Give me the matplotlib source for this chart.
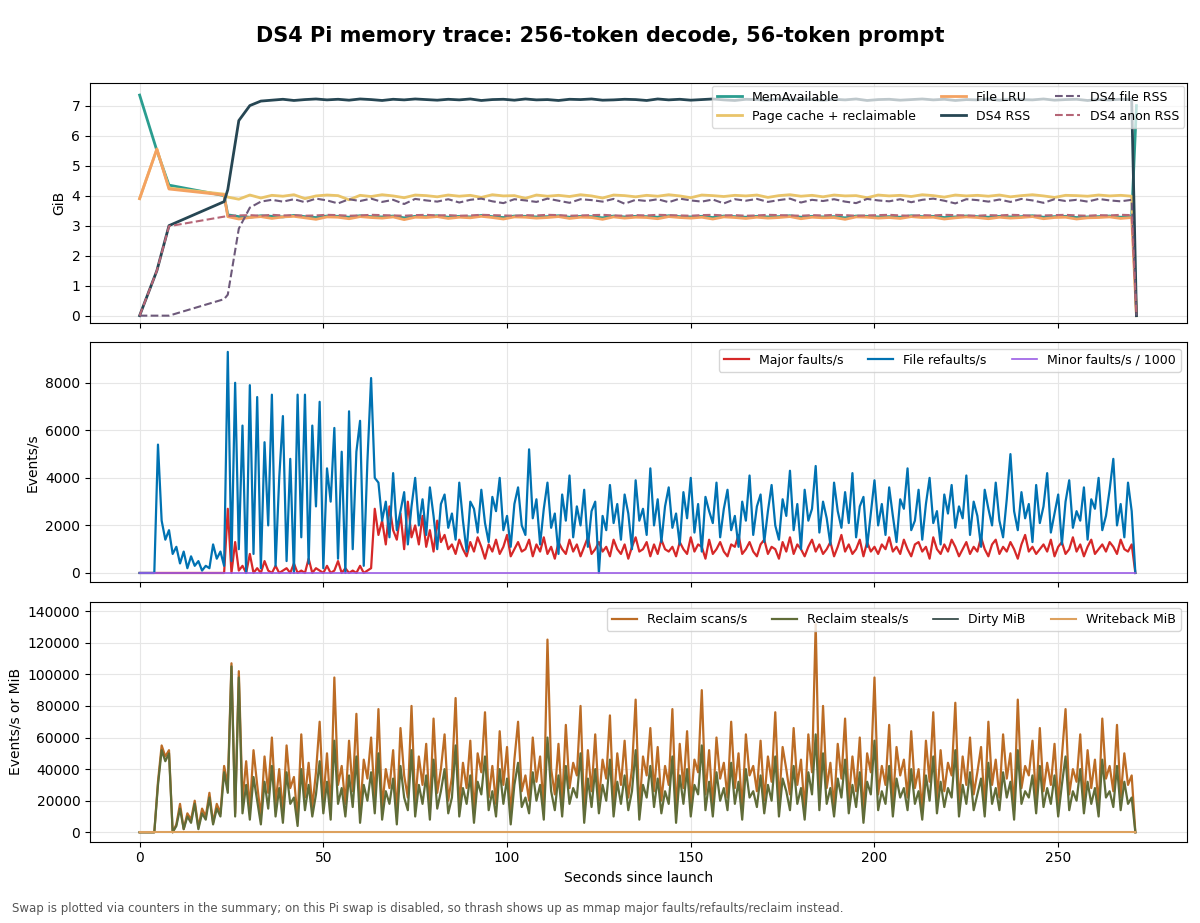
import numpy as np
import matplotlib
matplotlib.use("Agg")
import matplotlib.pyplot as plt

# ---- panel 1: memory (GiB) ----
t_early = [0, 4.7, 8, 23]
avail_early = [7.35, 5.5, 4.35, 4.0]
cache_early = [3.9, 5.55, 4.25, 4.05]
lru_early = [3.9, 5.55, 4.22, 4.02]
rss_early = [0.0, 1.5, 3.0, 3.8]
file_early = [0.0, 0.0, 0.0, 0.55]
anon_early = [0.0, 1.5, 2.98, 3.3]

avail = [3.36, 3.30, 3.28, 3.33, 3.31, 3.29, 3.34, 3.30, 3.27, 3.32,
         3.31, 3.28, 3.33, 3.30, 3.29, 3.32, 3.26, 3.31, 3.30, 3.33,
         3.28, 3.31, 3.29, 3.34, 3.30, 3.27, 3.32, 3.31, 3.29, 3.30,
         3.33, 3.28, 3.31, 3.30, 3.26, 3.32, 3.29, 3.31, 3.30, 3.28,
         3.33, 3.30, 3.29, 3.31, 3.27, 3.32, 3.30, 3.28, 3.31, 3.29,
         3.30, 3.33, 3.28, 3.31, 3.29, 3.30, 3.26, 3.32, 3.31, 3.29,
         3.30, 3.28, 3.33, 3.30, 3.31, 3.27, 3.29, 3.32, 3.30, 3.28,
         3.31, 3.29, 3.30, 3.33, 3.28, 3.30, 3.31, 3.27, 3.29, 3.30,
         3.32, 3.28, 3.30]
lru = [3.30, 3.22, 3.27, 3.30, 3.24, 3.29, 3.31, 3.26, 3.21, 3.29,
       3.28, 3.23, 3.30, 3.27, 3.25, 3.29, 3.20, 3.28, 3.27, 3.30,
       3.24, 3.28, 3.26, 3.31, 3.27, 3.22, 3.29, 3.28, 3.25, 3.27,
       3.30, 3.24, 3.28, 3.27, 3.21, 3.29, 3.25, 3.28, 3.27, 3.23,
       3.30, 3.27, 3.25, 3.28, 3.22, 3.29, 3.27, 3.24, 3.28, 3.25,
       3.27, 3.30, 3.23, 3.28, 3.26, 3.27, 3.21, 3.29, 3.28, 3.25,
       3.27, 3.24, 3.30, 3.27, 3.28, 3.22, 3.26, 3.29, 3.27, 3.23,
       3.28, 3.25, 3.27, 3.30, 3.23, 3.27, 3.28, 3.22, 3.26, 3.27,
       3.29, 3.24, 3.27]
cache = [3.95, 3.88, 4.02, 3.92, 4.01, 3.98, 4.03, 3.90, 3.99, 4.02,
         4.00, 3.86, 4.01, 3.97, 4.03, 3.99, 3.93, 4.02, 4.00, 3.96,
         4.02, 3.98, 4.01, 3.94, 4.03, 3.99, 4.00, 3.91, 4.02, 3.98,
         4.01, 3.97, 4.03, 3.99, 3.92, 4.02, 4.00, 3.96, 4.01, 3.98,
         4.03, 3.99, 3.93, 4.02, 4.00, 3.97, 4.01, 3.99, 4.02, 3.94,
         4.00, 4.03, 3.98, 4.01, 3.96, 4.02, 3.99, 4.00, 3.93, 4.02,
         3.99, 4.01, 3.97, 4.03, 4.00, 3.95, 4.02, 3.99, 4.01, 3.98,
         4.02, 3.96, 4.00, 4.03, 3.99, 3.94, 4.01, 4.00, 3.98, 4.02,
         3.99, 4.01, 3.98]
rss = [4.2, 6.5, 7.0, 7.15, 7.18, 7.21, 7.17, 7.20, 7.22, 7.19,
       7.21, 7.18, 7.22, 7.20, 7.17, 7.21, 7.19, 7.22, 7.20, 7.18,
       7.21, 7.19, 7.22, 7.17, 7.20, 7.21, 7.18, 7.22, 7.19, 7.20,
       7.17, 7.21, 7.20, 7.22, 7.18, 7.19, 7.21, 7.20, 7.17, 7.22,
       7.19, 7.21, 7.18, 7.20, 7.22, 7.19, 7.17, 7.21, 7.20, 7.18,
       7.22, 7.19, 7.21, 7.20, 7.18, 7.21, 7.19, 7.22, 7.17, 7.20,
       7.21, 7.18, 7.20, 7.22, 7.19, 7.21, 7.17, 7.20, 7.19, 7.22,
       7.18, 7.21, 7.20, 7.19, 7.22, 7.18, 7.20, 7.21, 7.17, 7.20,
       7.19, 7.21, 7.20]
file_rss = [0.7, 2.9, 3.6, 3.8, 3.86, 3.80, 3.88, 3.78, 3.90, 3.84,
            3.74, 3.88, 3.82, 3.90, 3.79, 3.86, 3.72, 3.89, 3.84, 3.80,
            3.88, 3.77, 3.86, 3.90, 3.81, 3.75, 3.88, 3.84, 3.79, 3.90,
            3.83, 3.76, 3.88, 3.85, 3.80, 3.89, 3.73, 3.86, 3.82, 3.88,
            3.78, 3.90, 3.84, 3.80, 3.87, 3.74, 3.88, 3.83, 3.89, 3.79,
            3.85, 3.90, 3.77, 3.86, 3.82, 3.88, 3.80, 3.75, 3.89, 3.84,
            3.81, 3.88, 3.78, 3.86, 3.90, 3.83, 3.74, 3.88, 3.85, 3.80,
            3.87, 3.79, 3.89, 3.84, 3.76, 3.88, 3.82, 3.86, 3.80, 3.89,
            3.84, 3.81, 3.86]
anon_rss = [3.32, 3.34, 3.35, 3.33, 3.36, 3.34, 3.35, 3.33, 3.34, 3.36,
            3.35, 3.33, 3.34, 3.36, 3.35, 3.34, 3.33, 3.35, 3.36, 3.34,
            3.35, 3.33, 3.34, 3.36, 3.35, 3.34, 3.33, 3.35, 3.34, 3.36,
            3.35, 3.33, 3.34, 3.35, 3.36, 3.34, 3.33, 3.35, 3.34, 3.36,
            3.35, 3.34, 3.33, 3.35, 3.36, 3.34, 3.35, 3.33, 3.34, 3.36,
            3.35, 3.34, 3.33, 3.35, 3.34, 3.36, 3.35, 3.33, 3.34, 3.35,
            3.36, 3.34, 3.33, 3.35, 3.34, 3.36, 3.35, 3.34, 3.33, 3.35,
            3.34, 3.36, 3.35, 3.33, 3.34, 3.35, 3.36, 3.34, 3.33, 3.35,
            3.34, 3.36, 3.35]
t_end = 271.3
end_vals = {"avail": 7.0, "cache": 0.0, "lru": 0.0, "rss": 0.0, "file": 0.0, "anon": 0.0}

# ---- panel 2: faults, hundreds of events/s, one sample per second ----
refaults = [0, 0, 0, 0, 0, 54, 22, 14, 18, 8, 11, 4, 9, 2, 7, 3, 5, 1, 3, 2, 12, 6, 9, 3,
            93, 5, 80, 10, 62, 0, 79, 8, 74, 2, 55, 20, 75, 3, 40, 66, 5, 48, 0, 75, 15,
            75, 4, 62, 28, 72, 2, 44, 30, 61, 6, 51, 0, 68, 10, 51, 64, 3, 47, 82, 40,
            38, 22, 30, 15, 42, 18, 26, 34, 12, 28, 40, 20, 31, 16, 36, 24, 10, 29, 33, 19,
            25, 14, 38, 22, 9, 30, 27, 17, 35, 21, 13, 32, 26, 40, 18, 24, 11, 29, 36, 20,
            16, 52, 23, 31, 12, 27, 38, 19, 25, 8, 33, 22, 41, 15, 28, 20, 35, 11, 26, 30,
            0, 24, 18, 37, 21, 29, 14, 33, 25, 10, 39, 22, 27, 16, 44, 20, 31, 13, 28, 36,
            19, 25, 12, 34, 23, 40, 17, 29, 9, 32, 26, 21, 38, 15, 27, 35, 18, 24, 11, 30,
            22, 41, 16, 28, 33, 13, 26, 37, 20, 14, 31, 24, 43, 18, 29, 10, 35, 22, 27, 45,
            17, 30, 23, 12, 38, 26, 19, 34, 21, 42, 15, 28, 32, 11, 25, 39, 20, 29, 16, 36,
            24, 13, 31, 27, 44, 18, 22, 35, 14, 29, 40, 21, 26, 12, 33, 25, 37, 19, 28, 23,
            41, 16, 30, 24, 11, 35, 27, 20, 38, 22, 15, 31, 50, 26, 18, 34, 23, 29, 13, 37,
            21, 28, 42, 17, 25, 33, 12, 30, 39, 19, 26, 22, 36, 14, 31, 27, 40, 18, 24, 35,
            48, 20, 29, 15, 38, 26, 0]
major = [0] * 24 + [
    27, 0, 13, 1, 3, 0, 8, 0, 2, 0, 5, 1, 0, 3, 0, 1, 2, 0, 4, 0, 1, 0, 6, 0, 2, 1, 0, 3,
    0, 1, 5, 0, 2, 0, 1, 0, 3, 0, 1, 2, 27,
    16, 22, 12, 28, 18, 14, 25, 10, 30, 15, 20, 12, 24, 11, 18, 9, 22, 13, 16, 10,
    12, 8, 14, 10, 7, 13, 9, 15, 11, 6, 12, 9, 14, 8, 11, 16, 7, 10, 13, 9,
    10, 14, 7, 12, 9, 15, 8, 11, 6, 13, 10, 8, 14, 9, 12, 7, 11, 15, 8, 10,
    13, 9, 11, 7, 14, 10, 8, 12, 6, 11, 15, 9, 10, 13, 7, 12, 8, 14, 10, 9,
    11, 7, 13, 10, 8, 15, 9, 12, 11, 6, 14, 8, 10, 13, 9, 7, 12, 11, 16, 8,
    10, 13, 9, 7, 12, 14, 8, 11, 10, 6, 13, 9, 15, 8, 12, 10, 7, 11, 14, 9,
    12, 8, 10, 13, 7, 11, 16, 9, 12, 8, 10, 14, 7, 13, 9, 11, 8, 12, 10, 15,
    9, 11, 8, 14, 10, 7, 12, 13, 9, 11, 6, 15, 10, 8, 12, 9, 14, 11, 7, 10,
    13, 8, 11, 9, 15, 10, 7, 12, 14, 8, 11, 9, 13, 10, 6, 12, 16, 9, 11, 8,
    10, 12, 9, 14, 7, 11, 13, 8, 10, 15, 9, 12, 7, 11, 14, 8, 10, 12, 9, 13,
    11, 8, 14, 10, 9, 12, 0]
minor_k = [0.05] * len(refaults)

# ---- panel 3: reclaim, thousands per second ----
scans = [0, 0, 0, 0, 0, 32, 55, 48, 52, 0, 5, 18, 2, 12, 8, 20, 3, 15, 10, 25, 6, 18, 12,
         42, 30, 107, 12, 102,
         20, 45, 15, 52, 30, 10, 48, 25, 60, 18, 40, 12, 55, 28, 35, 8, 62, 22, 44, 16,
         38, 70, 20, 50, 14, 98, 30, 42, 18, 58, 26, 75, 12, 46, 34, 60, 20, 78, 15, 40,
         28, 52, 10, 66, 36, 22, 80, 18, 48, 30, 56, 14, 72, 25, 40, 62, 20, 35, 85, 16,
         44, 28, 58, 12, 50, 38, 76, 22, 42, 18, 64, 30, 54, 10, 46, 70, 26, 36, 20, 60,
         32, 48, 14, 122, 40, 24, 56, 18, 68, 28, 44, 36, 80, 12, 52, 26, 62, 20, 46, 34,
         74, 16, 50, 30, 58, 22, 40, 84, 14, 48, 36, 66, 26, 54, 20, 42, 30, 78, 12, 56,
         28, 64, 18, 46, 38, 90, 24, 52, 16, 60, 34, 44, 22, 70, 28, 50, 14, 62, 36, 42,
         26, 58, 20, 48, 32, 76, 18, 54, 40, 24, 66, 30, 46, 14, 62, 38, 132, 22, 80, 28,
         44, 16, 56, 34, 72, 20, 48, 26, 60, 12, 50, 38, 98, 24, 42, 30, 68, 18, 54, 36,
         46, 22, 64, 28, 40, 14, 58, 32, 76, 20, 52, 26, 44, 36, 82, 18, 48, 30, 60, 24,
         38, 54, 16, 70, 30, 46, 22, 62, 34, 50, 14, 84, 28, 42, 36, 58, 20, 66, 26, 44,
         30, 56, 18, 48, 78, 24, 40, 32, 62, 20, 52, 28, 46, 16, 72, 34, 42, 26, 68, 22,
         50, 30, 36, 0]
steals = [0, 0, 0, 0, 0, 30, 52, 45, 50, 0, 4, 15, 2, 10, 6, 18, 2, 12, 8, 22, 5, 15, 10,
          38, 25, 105, 10, 98,
          12, 30, 8, 35, 20, 5, 32, 15, 42, 10, 28, 6, 38, 18, 22, 4, 40, 14, 30, 10,
          24, 45, 12, 32, 8, 58, 18, 28, 10, 36, 16, 48, 6, 30, 20, 38, 12, 50, 8, 26,
          18, 34, 5, 42, 22, 14, 52, 10, 30, 18, 36, 8, 46, 15, 26, 40, 12, 22, 55, 10,
          28, 18, 36, 6, 32, 24, 48, 14, 26, 10, 40, 18, 34, 5, 30, 44, 16, 22, 12, 38,
          20, 30, 8, 60, 26, 14, 36, 10, 42, 18, 28, 22, 50, 6, 34, 16, 40, 12, 30, 20,
          46, 10, 32, 18, 36, 14, 26, 52, 8, 30, 22, 42, 16, 34, 12, 26, 18, 48, 6, 36,
          18, 40, 10, 30, 24, 55, 14, 32, 10, 38, 20, 28, 14, 44, 18, 32, 8, 40, 22, 26,
          16, 36, 12, 30, 20, 48, 10, 34, 26, 14, 42, 18, 28, 8, 38, 24, 62, 14, 50, 18,
          28, 10, 34, 22, 46, 12, 30, 16, 38, 6, 32, 24, 58, 14, 26, 18, 42, 10, 34, 22,
          28, 14, 40, 18, 26, 8, 36, 20, 48, 12, 32, 16, 28, 22, 52, 10, 30, 18, 38, 14,
          24, 34, 10, 44, 18, 28, 14, 38, 22, 32, 8, 52, 18, 26, 22, 36, 12, 42, 16, 28,
          18, 36, 10, 30, 48, 14, 26, 20, 40, 12, 32, 18, 28, 10, 46, 22, 26, 16, 42, 14,
          32, 18, 22, 0]
dirty_mib = [0.5] * len(scans)
writeback_mib = [0.0] * len(scans)

fig, (ax1, ax2, ax3) = plt.subplots(3, 1, figsize=(12, 9.23), dpi=100, sharex=True)
fig.subplots_adjust(left=0.075, right=0.989, top=0.91, bottom=0.088, hspace=0.08)
fig.suptitle("DS4 Pi memory trace: 256-token decode, 56-token prompt",
             fontsize=15, fontweight="bold", y=0.972)

t_top = np.concatenate([t_early, np.arange(24, 24 + 3 * len(avail), 3), [t_end]])


def top_series(early, dense, end):
    return np.concatenate([early, dense, [end]])


ax1.plot(t_top, top_series(avail_early, avail, end_vals["avail"]), color="#2a9d8f", lw=2, label="MemAvailable")
ax1.plot(t_top, top_series(cache_early, cache, end_vals["cache"]), color="#e9c46a", lw=2, label="Page cache + reclaimable")
ax1.plot(t_top, top_series(lru_early, lru, end_vals["lru"]), color="#f4a261", lw=2, label="File LRU")
ax1.plot(t_top, top_series(rss_early, rss, end_vals["rss"]), color="#264653", lw=2, label="DS4 RSS")
ax1.plot(t_top, top_series(file_early, file_rss, end_vals["file"]), color="#6d597a", lw=1.5, ls="--", label="DS4 file RSS")
ax1.plot(t_top, top_series(anon_early, anon_rss, end_vals["anon"]), color="#b56576", lw=1.5, ls="--", label="DS4 anon RSS")
ax1.set_ylabel("GiB")
ax1.set_ylim(-0.25, 7.75)
ax1.legend(loc="upper right", ncol=3, fontsize=9, framealpha=0.7,
           borderaxespad=0.2, handlelength=2)

t2 = np.arange(len(refaults))
ax2.plot(np.arange(len(major)), np.array(major) * 100, color="#d62828", lw=1.6, label="Major faults/s")
ax2.plot(t2, np.array(refaults) * 100, color="#0072b2", lw=1.6, label="File refaults/s")
ax2.plot(t2, minor_k, color="#9b5de5", lw=1.2, label="Minor faults/s / 1000")
ax2.set_ylabel("Events/s")
ax2.set_ylim(-400, 9700)
ax2.legend(loc="upper right", ncol=3, fontsize=9, framealpha=0.8)

t3 = np.arange(len(scans))
ax3.plot(t3, np.array(scans) * 1000, color="#bc6c25", lw=1.6, label="Reclaim scans/s")
ax3.plot(np.arange(len(steals)), np.array(steals) * 1000, color="#606c38", lw=1.6, label="Reclaim steals/s")
ax3.plot(t3, dirty_mib, color="#283d3b", lw=1.2, label="Dirty MiB")
ax3.plot(t3, writeback_mib, color="#dda15e", lw=1.5, label="Writeback MiB")
ax3.set_ylabel("Events/s or MiB")
ax3.set_ylim(-6000, 146000)
ax3.set_xlabel("Seconds since launch")
ax3.legend(loc="upper right", ncol=4, fontsize=9, framealpha=0.8)
ax3.set_xlim(-13.5, 285)

for ax in (ax1, ax2, ax3):
    ax.grid(True, color="#e6e6e6", lw=0.8)

fig.text(0.01, 0.012, "Swap is plotted via counters in the summary; on this Pi swap is disabled, "
         "so thrash shows up as mmap major faults/refaults/reclaim instead.",
         fontsize=8.5, color="#555555")

fig.savefig("out.png", dpi=100)
